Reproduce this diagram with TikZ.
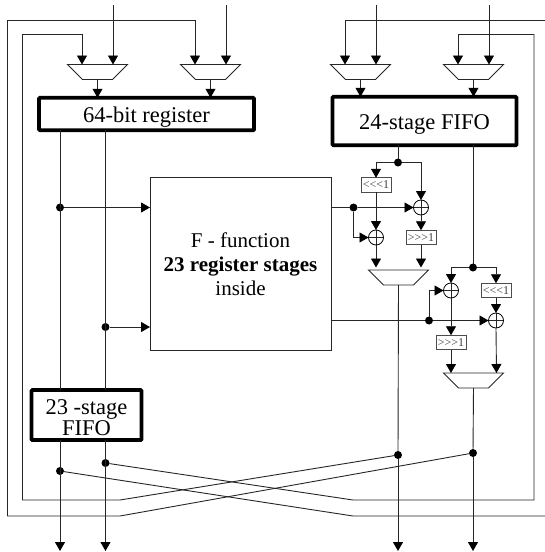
\documentclass[tikz,border=0pt]{standalone}
\usepackage{fontspec}
\setmainfont{Liberation Serif}
\usetikzlibrary{arrows.meta}
\newcommand{\lowered}[2]{\raisebox{-#1}[\height][\depth]{#2}}
\tikzset{
  x=1pt,y=-1pt,
  wire/.style={line width=0.9pt,draw=black!85},
  arr/.style={wire,-{Triangle[length=9pt,width=10pt,color=black]}},
  muxbox/.style={rectangle,minimum width=60pt,minimum height=15pt,inner sep=0pt,outer sep=0pt},
  muxline/.style={draw=black!85,line width=0.9pt,fill=white},
  regbox/.style={draw=black,line width=3.6pt,fill=white,rounded corners=0.8pt,inner sep=0pt,outer sep=0pt,font=\fontsize{22.5}{21}\selectfont,align=center},
  funcbox/.style={draw=black!85,line width=0.9pt,fill=white,inner sep=0pt,outer sep=0pt,font=\fontsize{21}{24}\selectfont,align=center},
  shiftbox/.style={draw=black!70,line width=0.9pt,fill=white,minimum width=30pt,minimum height=14.5pt,inner sep=0pt,outer sep=0pt,font=\fontsize{12}{12}\selectfont,text=black!75},
  xorc/.style={circle,draw=black,line width=0.8pt,minimum size=15pt,inner sep=0pt,outer sep=0pt,
    path picture={\draw[line width=0.8pt,draw=black!85] (path picture bounding box.north)--(path picture bounding box.south) (path picture bounding box.west)--(path picture bounding box.east);}},
  jdot/.style={circle,fill=black,minimum size=8pt,inner sep=0pt,outer sep=0pt},
}
\begin{document}
\begin{tikzpicture}
\useasboundingbox (0,0) rectangle (545,552);
% free ends
\coordinate (ia) at (113,5); \coordinate (ib) at (226,5); \coordinate (ic) at (376,5); \coordinate (id) at (489,5);
\coordinate (oa) at (60,551); \coordinate (ob) at (105.5,551); \coordinate (oc) at (398,551); \coordinate (od) at (473,551);
\coordinate (ra) at (545,20); \coordinate (rb) at (545,516);
% blocks
\node[muxbox] (m1) at (97.5,72) {};
\node[muxbox] (m2) at (210.5,72) {};
\node[muxbox] (m3) at (360.5,72) {};
\node[muxbox] (m4) at (473.5,72) {};
\node[muxbox] (m5) at (398.5,277.5) {};
\node[muxbox] (m6) at (473.5,380.5) {};
\foreach \m in {m1,m2,m3,m4,m5,m6}
  \draw[muxline] (\m.north west) -- (\m.north east) -- ([xshift=-15pt]\m.south east) -- ([xshift=15pt]\m.south west) -- cycle;
\node[regbox,minimum width=215pt,minimum height=32.5pt] (reg) at (146.5,114) {\lowered{3.5pt}{64-bit register}};
\node[regbox,minimum width=184pt,minimum height=48.5pt] (fifoa) at (424.5,121) {\lowered{3pt}{24-stage FIFO}};
\node[regbox,minimum width=110pt,minimum height=50pt] (fifob) at (86.5,415) {\lowered{3pt}{23 -stage}\\\lowered{3pt}{FIFO}};
\node[funcbox,minimum width=181pt,minimum height=173pt] (ff) at (240.5,263.5) {\lowered{1pt}{F - function}\\\lowered{1pt}{\textbf{23 register stages}}\\\lowered{1pt}{inside}};
\node[shiftbox] (s1) at (376,185) {<{}<{}<1};
\node[shiftbox] (s2) at (421,237.5) {>{}>{}>1};
\node[shiftbox] (s3) at (496,290.5) {<{}<{}<1};
\node[shiftbox] (s4) at (451,342.5) {>{}>{}>1};
\node[xorc] (x1) at (376,237.5) {};
\node[xorc] (x2) at (421,207.5) {};
\node[xorc] (x3) at (451,290.5) {};
\node[xorc] (x4) at (496,320.5) {};
% junctions
\node[jdot] (d1) at (398,162.5) {};
\node[jdot] (d2) at (353.5,207.5) {};
\node[jdot] (d3) at (473,267.5) {};
\node[jdot] (d4) at (429,320.5) {};
\node[jdot] (d5) at (60,207.5) {};
\node[jdot] (d6) at (105.5,327) {};
\node[jdot] (d7) at (398,455) {};
\node[jdot] (d8) at (473,453) {};
\node[jdot] (d9) at (105.5,463) {};
\node[jdot] (d10) at (60,471) {};
% pins
\coordinate (p1) at (82,64.5); \coordinate (p2) at (113,64.5); \coordinate (p3) at (195,64.5); \coordinate (p4) at (226,64.5);
\coordinate (p5) at (345,64.5); \coordinate (p6) at (376,64.5); \coordinate (p7) at (458,64.5); \coordinate (p8) at (489,64.5);
\coordinate (q1) at (376,267.5); \coordinate (q2) at (421,267.5); \coordinate (q3) at (451,373); \coordinate (q4) at (496.5,373);
\coordinate (k1) at (120,500); \coordinate (k2) at (120,516); \coordinate (k3) at (353,500); \coordinate (k4) at (353,516);
\coordinate (c1) at (7.5,20); \coordinate (c2) at (22.5,34); \coordinate (c3) at (534,34);
% inputs
\draw[arr] (ia)--(p2);
\draw[arr] (ib)--(p4);
\draw[arr] (ic)--(p6);
\draw[arr] (id)--(p8);
% mux outputs
\draw[arr] (m1.south)--(m1.south|-reg.north);
\draw[arr] (m2.south)--(m2.south|-reg.north);
\draw[arr] (m3.south)--(m3.south|-fifoa.north);
\draw[arr] (m4.south)--(m4.south|-fifoa.north);
% feedback
\draw[arr] (ra) -- (p5|-ra) -- (p5);
\draw[arr] (c1) -- (p3|-c1) -- (p3);
\draw[wire] (c1) -- (c1|-k2) -- (k2) -- (d8);
\draw[arr] (c2) -- (p1|-c2) -- (p1);
\draw[wire] (c2) -- (c2|-k1) -- (k1) -- (d7);
\draw[arr] (c3) -- (p7|-c3) -- (p7);
\draw[wire] (c3) -- (c3|-k3) -- (k3) -- (d9);
\draw[wire] (rb) -- (k4) -- (d10);
% register outputs
\draw[wire] (d5|-reg.south) -- (d5|-fifob.north);
\draw[wire] (d6|-reg.south) -- (d6|-fifob.north);
\draw[arr] (oa|-fifob.south) -- (oa);
\draw[arr] (ob|-fifob.south) -- (ob);
\draw[arr] (d5) -- (d5-|ff.west);
\draw[arr] (d6) -- (d6-|ff.west);
% crypto path 1
\draw[wire] (d1|-fifoa.south) -- (d1);
\draw[arr] (d1) -| (s1.north);
\draw[arr] (d1) -| (x2.north);
\draw[arr] (s1.south) -- (x1.north);
\draw[wire] (d2-|ff.east) -- (d2);
\draw[arr] (d2) -- (x2.west);
\draw[arr] (d2) |- (x1.west);
\draw[arr] (x2.south) -- (s2.north);
\draw[arr] (x1.south) -- (q1);
\draw[arr] (s2.south) -- (q2);
\draw[wire] (m5.south) -- (d7);
\draw[arr] (d7) -- (oc);
% crypto path 2
\draw[wire] (d3|-fifoa.south) -- (d3);
\draw[arr] (d3) -| (x3.north);
\draw[arr] (d3) -| (s3.north);
\draw[arr] (s3.south) -- (x4.north);
\draw[wire] (d4-|ff.east) -- (d4);
\draw[arr] (d4) -- (x4.west);
\draw[arr] (d4) |- (x3.west);
\draw[arr] (x3.south) -- (s4.north);
\draw[arr] (s4.south) -- (q3);
\draw[arr] (x4.south) -- (q4);
\draw[wire] (m6.south) -- (d8);
\draw[arr] (d8) -- (od);
\end{tikzpicture}
\end{document}
